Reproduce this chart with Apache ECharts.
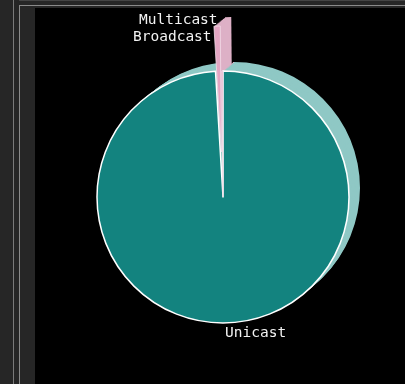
<!DOCTYPE html>
<html>
<head>
<meta charset="utf-8">
<script src="https://cdn.jsdelivr.net/npm/echarts@6/dist/echarts.min.js"></script>
<style>
html,body{margin:0;padding:0;background:#262626;}
#c{width:405px;height:384px;}
</style>
</head>
<body>
<div id="c"></div>
<script>
// ---- data ----
const categories = ['Unicast', 'Broadcast', 'Multicast'];
const values = [99.05, 0.8, 0.15];
const exploded = ['Broadcast'];

// ---- style ----
const frontColors = { Unicast: '#13837f', Broadcast: '#e3a6c3', Multicast: '#e3a6c3' };
const depthColors = { Unicast: '#8fc8c5', Broadcast: '#ddb0c6', Multicast: '#ddb0c6' };
const labelPos = {
  Multicast: [139, 20],
  Broadcast: [133, 37],
  Unicast: [225, 333]
};
const cx = 223, cy = 197, R = 126, dx = 11, dy = 9, layers = 10;

function makeData(colors, front) {
  return categories.map((name, i) => ({
    name: name,
    value: values[i],
    selected: exploded.indexOf(name) >= 0,
    itemStyle: front
      ? (name === 'Unicast'
          ? { color: colors[name], borderColor: '#ffffff', borderWidth: 1.5 }
          : { color: colors[name], borderColor: '#f3dde8', borderWidth: 0.8 })
      : { color: colors[name], borderWidth: 0 }
  }));
}

const common = {
  type: 'pie',
  silent: true,
  animation: false,
  radius: R,
  startAngle: 90,
  clockwise: true,
  selectedMode: 'multiple',
  selectedOffset: 45,
  avoidLabelOverlap: false,
  label: { show: false },
  labelLine: { show: false },
  emphasis: { disabled: true }
};

const series = [];
for (let k = layers; k >= 1; k--) {
  series.push(Object.assign({}, common, {
    center: [cx + dx * k / layers, cy - dy * k / layers],
    data: makeData(depthColors, false)
  }));
}
series.push(Object.assign({}, common, {
  center: [cx, cy],
  data: makeData(frontColors, true)
}));
// label carrier (transparent, not exploded)
series.push({
  type: 'pie',
  silent: true,
  animation: false,
  center: [cx, cy],
  radius: R,
  startAngle: 90,
  clockwise: true,
  avoidLabelOverlap: false,
  emphasis: { disabled: true },
  itemStyle: { color: 'rgba(0,0,0,0)', borderWidth: 0 },
  label: {
    show: true,
    position: 'outside',
    formatter: '{b}',
    color: '#f2f2f2',
    fontFamily: 'DejaVu Sans Mono',
    fontSize: 14.5
  },
  labelLine: { show: false },
  labelLayout: function (p) {
    const pos = labelPos[categories[p.dataIndex]];
    return { x: pos[0], y: pos[1], align: 'left', verticalAlign: 'middle', hideOverlap: false, moveOverlap: false };
  },
  data: categories.map((name, i) => ({ name: name, value: values[i] }))
});

const chart = echarts.init(document.getElementById('c'), null, { renderer: 'canvas' });
chart.setOption({
  backgroundColor: '#262626',
  animation: false,
  graphic: [
    { type: 'rect', z: -10, shape: { x: 35, y: 8, width: 370, height: 376 }, style: { fill: '#000000' } },
    { type: 'line', z: -10, shape: { x1: 13.5, y1: 0, x2: 13.5, y2: 384 }, style: { stroke: '#7a7a7a', lineWidth: 1 } },
    { type: 'line', z: -10, shape: { x1: 19.5, y1: 5, x2: 19.5, y2: 384 }, style: { stroke: '#8a8a8a', lineWidth: 1 } },
    { type: 'line', z: -10, shape: { x1: 19, y1: 5.5, x2: 405, y2: 5.5 }, style: { stroke: '#8a8a8a', lineWidth: 1 } },
    { type: 'line', z: -10, shape: { x1: 19, y1: 0.5, x2: 405, y2: 0.5 }, style: { stroke: '#444444', lineWidth: 1 } }
  ],
  series: series
});
</script>
</body>
</html>
